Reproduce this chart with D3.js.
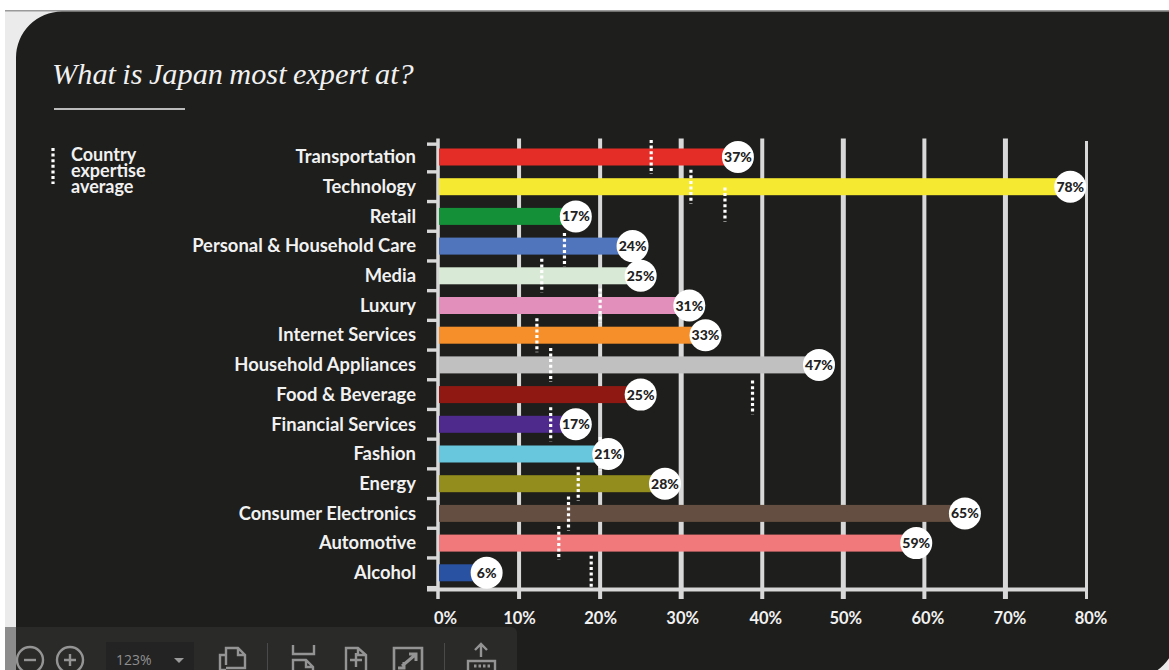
<!DOCTYPE html>
<html>
<head>
<meta charset="utf-8">
<script src="https://cdn.jsdelivr.net/npm/d3@7"></script>
<style>
html,body{margin:0;padding:0;background:#fff;overflow:hidden}
svg{display:block}
text{font-family:Lato,sans-serif}
</style>
</head>
<body>
<svg id="chart" width="1169" height="670"></svg>
<script>
// Share of respondents naming each sector, top to bottom
const categories = ["Transportation","Technology","Retail","Personal & Household Care","Media","Luxury","Internet Services","Household Appliances","Food & Beverage","Financial Services","Fashion","Energy","Consumer Electronics","Automotive","Alcohol"];
const japanValues = [37,78,17,24,25,31,33,47,25,17,21,28,65,59,6];
const countryAverage = [26.3,31.2,35.4,15.6,12.8,20,12.2,13.9,38.8,13.9,20,17.3,16.1,14.9,18.9];
const barColors = ["#e52d27","#f5e932","#149038","#5075bd","#d8ead5","#e28fbc","#f68f2a","#c0c0c0","#8f1812","#4e2a8c","#68c7dc","#928d1c","#644e41","#f2797b","#2a52a2"];
const xTicks = [0,10,20,30,40,50,60,70,80];

const svg = d3.select("#chart");
const ink = "#1e1e1c", rule = "#d8d8d8", paper = "#f1f1f1";

// Page backdrop and the dark card, rounded at top-left and bottom-right only
svg.append("rect").attr("x",5).attr("y",10).attr("width",1164).attr("height",660).attr("fill","#ebebeb");
svg.append("rect").attr("x",5).attr("y",10).attr("width",1164).attr("height",1.5).attr("fill","#9a9a9a");
svg.append("path").attr("d","M16,57.5A46,46 0 0 1 62,11.5H1177V632A47,47 0 0 1 1130,679H16Z").attr("fill",ink);

// Scales
const x = d3.scaleLinear().domain([0,80]).range([438,1086.5]);
const y = d3.scaleBand().domain(categories).range([142.15,587.65]);
const barH = 17;

// Title block
svg.append("text").attr("x",52).attr("y",84).attr("fill",paper)
  .style("font-family","'Liberation Serif',serif").style("font-style","italic").style("font-size","30.3px")
  .style("word-spacing","-1.2px").text("What is Japan most expert at?");
svg.append("line").attr("x1",54).attr("x2",185).attr("y1",109).attr("y2",109).attr("stroke",paper).attr("stroke-width",1.4);

// Legend
const dotted = sel => sel.attr("stroke","#fff").attr("stroke-width",3.2).attr("stroke-dasharray","3 2.6");
dotted(svg.append("line").attr("x1",53).attr("x2",53).attr("y1",148).attr("y2",184));
svg.append("g").selectAll("text").data(["Country","expertise","average"]).join("text")
  .attr("x",71).attr("y",(d,i)=>161+i*15.8).attr("fill",paper)
  .style("font-size","18px").style("font-weight",700).text(d=>d);

// Vertical rules with the percent scale below them
const xAxis = d3.axisBottom(x).tickValues(xTicks).tickFormat(d=>d+"%").tickSize(0).tickPadding(0);
const xG = svg.append("g").attr("transform","translate(0,618)").call(xAxis);
xG.select(".domain").remove();
const labelNudge = [7,0,0,1,3,2,3,4,4];
xG.selectAll("text").attr("y",6).attr("dy",0).attr("dx",(d,i)=>labelNudge[i]).attr("fill",paper).style("font-size","16.5px").style("font-weight",700);
const ruleW = [3.5,4,4,5,4,5,4,5,3];
svg.append("g").selectAll("line").data(xTicks).join("line")
  .attr("x1",d=>x(d)).attr("x2",d=>x(d))
  .attr("y1",d=>d===80?141:138.5).attr("y2",599)
  .attr("stroke",rule).attr("stroke-width",(d,i)=>ruleW[i]);

// Left-hand separators between rows, and the base line
const rowEdges = categories.map(c=>y(c)).concat([y.range()[1]]);
svg.append("g").selectAll("line").data(rowEdges).join("line")
  .attr("x1",427).attr("x2",438)
  .attr("y1",(d,i)=>i===0?d+2:d).attr("y2",(d,i)=>i===0?d+2:d)
  .attr("stroke",rule).attr("stroke-width",3.4);
svg.append("line").attr("x1",427).attr("x2",1088).attr("y1",589.5).attr("y2",589.5).attr("stroke",rule).attr("stroke-width",4);

// Sector names
const yAxis = d3.axisLeft(y).tickSize(0).tickPadding(0);
const yG = svg.append("g").attr("transform","translate(416,0)").call(yAxis);
yG.select(".domain").remove();
yG.selectAll("text").attr("fill",paper).attr("dy","0.34em").style("font-size","18.4px").style("font-weight",700);

// Bars
const rowMid = c => y(c)+y.bandwidth()/2;
svg.append("g").selectAll("rect").data(categories).join("rect")
  .attr("x",x(0)+1).attr("y",c=>rowMid(c)-barH/2)
  .attr("width",(c,i)=>x(japanValues[i])-x(0)-1).attr("height",barH)
  .attr("fill",(c,i)=>barColors[i]);

// Dotted country averages; the Retail and Personal Care markers sit clear of their neighbours
const avgShift = {"Retail":-12,"Personal & Household Care":4,"Food & Beverage":3};
svg.append("g").selectAll("line").data(categories).join("line")
  .attr("x1",(c,i)=>x(countryAverage[i])).attr("x2",(c,i)=>x(countryAverage[i]))
  .attr("y1",c=>rowMid(c)+(avgShift[c]||0)-17).attr("y2",c=>rowMid(c)+(avgShift[c]||0)+17)
  .call(dotted);

// Value bubbles at the end of each bar
const bubbles = svg.append("g").selectAll("g").data(categories).join("g")
  .attr("transform",(c,i)=>`translate(${x(japanValues[i])},${rowMid(c)})`);
bubbles.append("circle").attr("r",16).attr("fill","#fff");
bubbles.append("text").attr("text-anchor","middle").attr("dy","0.36em").attr("fill","#222")
  .style("font-size","14px").style("font-weight",900).text((c,i)=>japanValues[i]+"%");

// Viewer toolbar along the bottom edge
const bar = svg.append("g");
bar.append("path").attr("d","M5,627H511a6,6 0 0 1 6,6V670H5Z").attr("fill","rgb(53,53,53)").attr("fill-opacity",0.52);
bar.append("rect").attr("x",106).attr("y",642).attr("width",88).attr("height",28).attr("fill","#232323");
const ic = bar.append("g").attr("fill","none").attr("stroke","#949494").attr("stroke-width",2.4);
ic.append("circle").attr("cx",30).attr("cy",660).attr("r",13);
ic.append("path").attr("d","M24,660H36");
ic.append("circle").attr("cx",70).attr("cy",660).attr("r",13);
ic.append("path").attr("d","M64,660H76M70,654V666");
ic.append("path").attr("d","M226,670H220V655H226M226,665V648H238L245,655V668H226M238,648V655H245");
ic.append("path").attr("d","M293,645V654H314V645M293,670V660H306L313,667V670M306,660V667H313");
ic.append("path").attr("d","M346,670V648H358L366,655V670M358,648V655H366M356,653V667M350,660H362");
ic.append("path").attr("d","M394,670V648H422V670").attr("stroke-width",2.6);
ic.append("path").attr("d","M402,666L415,655M409,654H416V661M398,668H404V662").attr("stroke-width",3);
ic.append("path").attr("d","M481,657V645M475,650L481,644L487,650M468,670V661H495V670");
ic.append("path").attr("d","M474,666H490").attr("stroke-dasharray","2.5 2").attr("stroke-width",3);
ic.append("path").attr("d","M267.5,643V670M444.5,643V670").attr("stroke","#4a4a4a").attr("stroke-width",1);
bar.append("path").attr("d","M174,658H184L179,663Z").attr("fill","#9a9a9a");
bar.append("text").attr("x",116).attr("y",665).attr("fill","#8f8f8f")
  .style("font-family","'Open Sans',sans-serif").style("font-size","14px").text("123%");
</script>
</body>
</html>
